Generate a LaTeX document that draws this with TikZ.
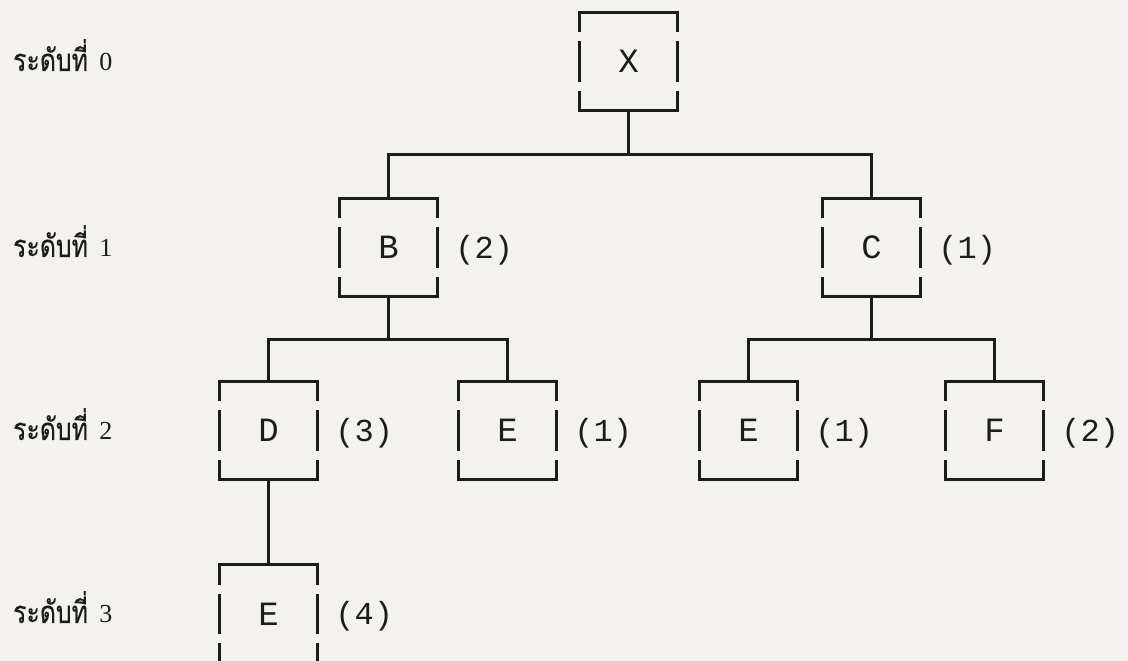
\documentclass[tikz,border=0pt]{standalone}
\usepackage{fontspec}
\setmonofont{Liberation Mono}
\newfontfamily\thaifont[Script=Thai, FakeStretch=0.8, FakeBold=0.3]{Loma}
\newfontfamily\serifdigits{Liberation Serif}
\usetikzlibrary{calc}
\definecolor{paper}{RGB}{243,242,239}
\definecolor{ink}{RGB}{28,28,28}
\tikzset{
  boxnode/.style={minimum width=97pt, minimum height=98pt, inner sep=0pt,
    font=\ttfamily\fontsize{34}{34}\selectfont, text=ink},
  wire/.style={draw=ink, line width=3pt},
  count/.style={anchor=base west, inner sep=0pt,
    font=\ttfamily\fontsize{32}{32}\selectfont, text=ink},
  levellabel/.style={anchor=base west, inner sep=0pt, text=ink,
    font=\fontsize{31}{31}\selectfont},
}
% box outline with two gaps in each vertical side
\newcommand\openbox[1]{%
  \draw[wire, line join=miter] ($(#1.north west)+(0,-20)$) -- (#1.north west)
    -- (#1.north east) -- ($(#1.north east)+(0,-20)$);
  \draw[wire, line join=miter] ($(#1.south west)+(0,20)$) -- (#1.south west)
    -- (#1.south east) -- ($(#1.south east)+(0,20)$);
  \draw[wire] ($(#1.north west)+(0,-29)$) -- ($(#1.south west)+(0,29)$);
  \draw[wire] ($(#1.north east)+(0,-29)$) -- ($(#1.south east)+(0,29)$);
}
\newcommand\levelnum[1]{\hspace{3pt}{\serifdigits\fontsize{26}{26}\selectfont #1}}
\begin{document}
\begin{tikzpicture}[x=1pt, y=1pt]
  \useasboundingbox (0,0) rectangle (1128,661);
  \clip (0,0) rectangle (1128,661);
  \fill[paper] (0,0) rectangle (1128,661);

  % level captions
  \node[levellabel] (l0) at (13,590) {\thaifont ระดับที่ \levelnum{0}};
  \node[levellabel] (l1) at (13,404) {\thaifont ระดับที่ \levelnum{1}};
  \node[levellabel] (l2) at (13,221) {\thaifont ระดับที่ \levelnum{2}};
  \node[levellabel] (l3) at (13,38) {\thaifont ระดับที่ \levelnum{3}};

  % tree nodes
  \node[boxnode] (x)  at (628.5,599.5) {X};
  \node[boxnode] (b)  at (388.5,413.5) {B};
  \node[boxnode] (c)  at (871.5,413.5) {C};
  \node[boxnode] (d)  at (268.5,230.5) {D};
  \node[boxnode] (e1) at (507.5,230.5) {E};
  \node[boxnode] (e2) at (748.5,230.5) {E};
  \node[boxnode] (f)  at (994.5,230.5) {F};
  \node[boxnode] (e3) at (268.5,47)    {E};

  \foreach \n in {x,b,c,d,e1,e2,f,e3} {\openbox{\n}}

  % counts beside the boxes
  \node[count] (nb)  at ($(b.east)+(18,-11)$)  {(2)};
  \node[count] (nc)  at ($(c.east)+(18,-11)$)  {(1)};
  \node[count] (nd)  at ($(d.east)+(18,-11)$)  {(3)};
  \node[count] (ne1) at ($(e1.east)+(18,-11)$) {(1)};
  \node[count] (ne2) at ($(e2.east)+(18,-11)$) {(1)};
  \node[count] (nf)  at ($(f.east)+(18,-11)$)  {(2)};
  \node[count] (ne3) at ($(e3.east)+(18,-11)$) {(4)};

  % connectors
  \coordinate (jx) at (628.5,506);
  \coordinate (jb) at (388.5,321);
  \coordinate (jc) at (871.5,321);
  \draw[wire] (x.south) -- (jx) -| (b.north);
  \draw[wire] (jx) -| (c.north);
  \draw[wire] (b.south) -- (jb) -| (d.north);
  \draw[wire] (jb) -| (e1.north);
  \draw[wire] (c.south) -- (jc) -| (e2.north);
  \draw[wire] (jc) -| (f.north);
  \draw[wire] (d.south) -- (e3.north);
\end{tikzpicture}
\end{document}
